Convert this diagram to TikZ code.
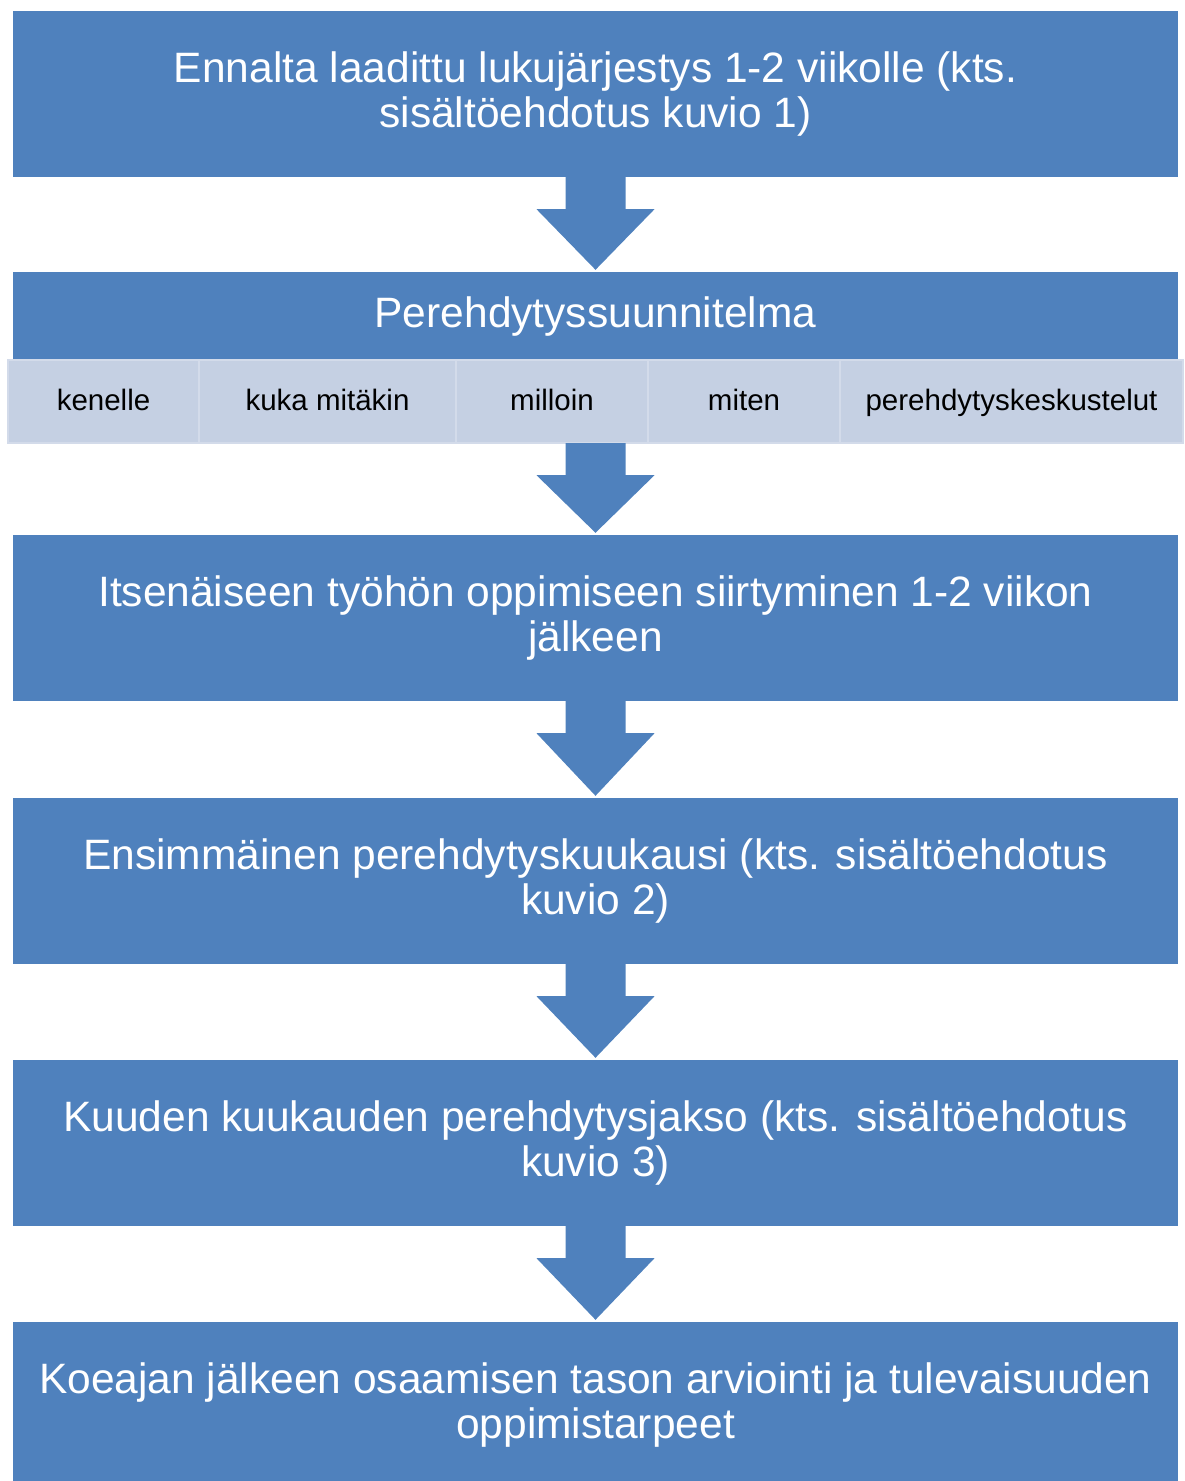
\documentclass[tikz,border=0pt]{standalone}
\usepackage{fontspec}
\setmainfont{Liberation Sans}
\usetikzlibrary{calc}
\definecolor{boxblue}{HTML}{4F81BD}
\definecolor{celllight}{HTML}{C5D0E3}
\definecolor{cellline}{HTML}{D3DBEA}
\tikzset{
  bigbox/.style={rectangle, fill=boxblue, draw=none, minimum width=1165pt, minimum height=166pt,
    inner sep=0pt, align=center, text=white, font=\fontsize{42.5}{44.5}\selectfont},
  cellbox/.style={rectangle, fill=celllight, draw=cellline, line width=2pt, minimum height=83pt,
    inner sep=0pt, align=center, text=black, text height=22pt, text depth=5pt,
    font=\fontsize{29.5}{32}\selectfont},
  flowarrow/.style={fill=boxblue, draw=none}
}
\newcommand{\flowarr}[2]{%
  \fill[flowarrow] ([xshift=-30pt]#1.south) -- ([xshift=-30pt,yshift=-32pt]#1.south)
    -- ([xshift=-59pt,yshift=-32pt]#1.south) -- ([yshift=2pt]#2.north)
    -- ([xshift=59pt,yshift=-32pt]#1.south) -- ([xshift=30pt,yshift=-32pt]#1.south)
    -- ([xshift=30pt]#1.south) -- cycle;}
\begin{document}
\begin{tikzpicture}[x=1pt,y=-1pt]
\useasboundingbox (0,0) rectangle (1184,1481);
\node[bigbox] (b1) at (595.5,94) {Ennalta laadittu lukujärjestys 1-2 viikolle (kts.\\sisältöehdotus kuvio 1)};
\node[bigbox, minimum height=171pt] (b2) at (595.5,357.5) {};
\node[text=white, font=\fontsize{42.5}{44.5}\selectfont, inner sep=0pt] (b2t) at (595.5,317) {Perehdytyssuunnitelma};
\node[cellbox, minimum width=191pt] (c1) at (103.5,401.5) {kenelle};
\node[cellbox, minimum width=257pt] (c2) at (327.5,401.5) {kuka mitäkin};
\node[cellbox, minimum width=192pt] (c3) at (552,401.5) {milloin};
\node[cellbox, minimum width=192pt] (c4) at (744,401.5) {miten};
\node[cellbox, minimum width=343pt] (c5) at (1011.5,401.5) {perehdytyskeskustelut};
\node[bigbox] (b3) at (595.5,618) {Itsenäiseen työhön oppimiseen siirtyminen 1-2 viikon\\jälkeen};
\node[bigbox] (b4) at (595.5,881) {Ensimmäinen perehdytyskuukausi (kts. sisältöehdotus\\kuvio 2)};
\node[bigbox] (b5) at (595.5,1143) {Kuuden kuukauden perehdytysjakso (kts. sisältöehdotus\\kuvio 3)};
\node[bigbox] (b6) at (595.5,1405) {Koeajan jälkeen osaamisen tason arviointi ja tulevaisuuden\\oppimistarpeet};
\flowarr{b1}{b2}
\flowarr{b2}{b3}
\flowarr{b3}{b4}
\flowarr{b4}{b5}
\flowarr{b5}{b6}
\end{tikzpicture}
\end{document}
